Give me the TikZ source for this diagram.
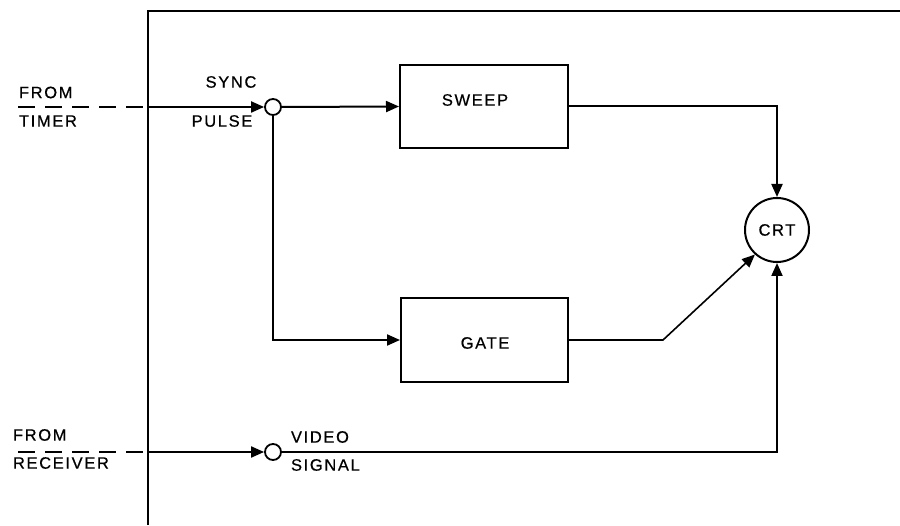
\documentclass[tikz,border=0pt]{standalone}
\usepackage{fontspec}
\setmainfont{Liberation Sans}[LetterSpace=10,FakeBold=0.6]
\usetikzlibrary{arrows.meta}
\begin{document}
\begin{tikzpicture}[x=1pt,y=-1pt,
  line width=2pt,
  lbl/.style={inner sep=0pt,font=\fontsize{16.5}{17}\selectfont},
  blk/.style={draw,line width=2pt,inner sep=0pt},
  junc/.style={draw,circle,line width=1.8pt,minimum size=16pt,inner sep=0pt},
  arr/.style={-{Triangle[length=13pt,width=11pt]}},
  dsh/.style={dash pattern=on 17pt off 10pt},
  thin/.style={line width=1.6pt}]
\useasboundingbox (0,0) rectangle (900,526);

% frame
\coordinate (fbl) at (148,525);
\coordinate (ftl) at (148,11);
\coordinate (ftr) at (900,11);
\draw[line width=2.2pt] (fbl) -- (ftl) -- (ftr);

% blocks
\node[blk,minimum width=168pt,minimum height=83pt] (sweep) at (484,106.5) {};
\node[lbl] (sweeplbl) at (475,100) {SWEEP};
\node[blk,minimum width=167pt,minimum height=84pt] (gate) at (484.5,340) {};
\node[lbl] (gatelbl) at (485,343) {GATE};
\node[junc] (sync) at (273,107) {};
\node[junc] (video) at (273,452) {};
\node[draw,circle,line width=2pt,minimum size=64pt,inner sep=0pt,font=\fontsize{16.5}{17}\selectfont] (crt) at (777,230) {CRT};

% labels
\node[lbl,anchor=west] (fromt) at (18,92.5) {FROM};
\node[lbl,anchor=west] (timer) at (18,121) {TIMER};
\node[lbl] (synclbl) at (231,82) {SYNC};
\node[lbl] (pulselbl) at (222,121) {PULSE};
\node[lbl,anchor=west] (fromr) at (12,435) {FROM};
\node[lbl,anchor=west] (recv) at (12,463) {RECEIVER};
\node[lbl,anchor=west] (videolbl) at (290,437) {VIDEO};
\node[lbl,anchor=west] (signallbl) at (290,465) {SIGNAL};

% inputs
\coordinate (tin) at (18,107);
\coordinate (tframe) at (148,107);
\draw[dsh] (tin) -- (tframe);
\draw[arr] (tframe) -- (sync.west);
\coordinate (rin) at (18,452);
\coordinate (rframe) at (148,452);
\draw[dsh] (rin) -- (rframe);
\draw[arr] (rframe) -- (video.west);

% connections
\draw[arr] (sync.east) -- (sweep.west);
\draw[arr] (sync.south) |- (gate.west);
\draw[arr] (sweep.east) -| (crt.north);
\coordinate (bend) at (663,340);
\draw[arr,thin] (gate.east) -- (bend) -- (crt.228);
\draw[arr] (video.east) -| (crt.south);
\end{tikzpicture}
\end{document}
